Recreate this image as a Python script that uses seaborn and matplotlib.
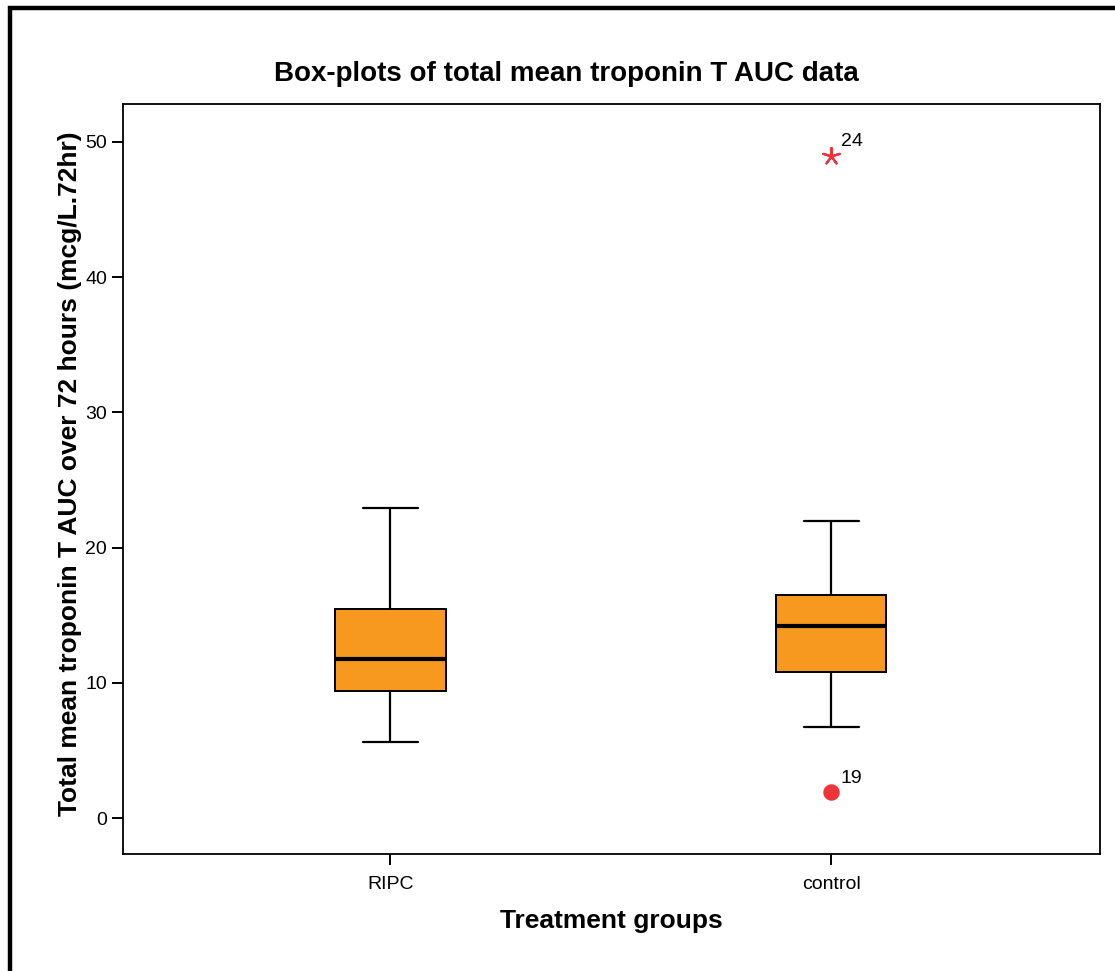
import matplotlib
matplotlib.use("Agg")
import matplotlib.pyplot as plt
import seaborn as sns
import pandas as pd
from matplotlib.patches import Rectangle

# ---- data ----
groups = ["RIPC", "control"]
# five-number summaries: lower whisker, Q1, median, Q3, upper whisker
ripc_summary = [5.62, 9.39, 11.76, 15.46, 22.93]
control_summary = [6.73, 10.80, 14.20, 16.49, 21.97]
outlier_groups = ["control", "control"]
outlier_values = [48.96, 1.92]
outlier_kind = ["extreme", "outlier"]
outlier_labels = ["24", "19"]
yticks = [0, 10, 20, 30, 40, 50]

title = "Box-plots of total mean troponin T AUC data"
xlabel = "Treatment groups"
ylabel = "Total mean troponin T AUC over 72 hours (mcg/L.72hr)"

box_color = "#F7991F"
out_color = "#EE3339"

sns.set_theme(style="white")
plt.rcParams["font.family"] = ["Liberation Sans", "DejaVu Sans"]
plt.rcParams["text.color"] = "black"
plt.rcParams["axes.labelcolor"] = "black"
plt.rcParams["xtick.color"] = "black"
plt.rcParams["ytick.color"] = "black"

df = pd.DataFrame({
    "group": [groups[0]] * len(ripc_summary) + [groups[1]] * len(control_summary),
    "value": ripc_summary + control_summary,
})
odf = pd.DataFrame({"group": outlier_groups, "value": outlier_values, "kind": outlier_kind})

fig = plt.figure(figsize=(11.15, 9.71), dpi=100)
ax = fig.add_axes([123 / 1115, 1 - 854 / 971, 977 / 1115, 750 / 971])

sns.boxplot(data=df, x="group", y="value", order=groups, ax=ax, width=0.25,
            showfliers=False, whis=1.5, color=box_color, saturation=1,
            boxprops=dict(facecolor=box_color, edgecolor="black", linewidth=1.4),
            medianprops=dict(color="black", linewidth=3),
            whiskerprops=dict(color="black", linewidth=1.6),
            capprops=dict(color="black", linewidth=1.6),
            capwidths=0.125)

ext = odf[odf["kind"] == "extreme"]
out = odf[odf["kind"] == "outlier"]
sns.scatterplot(data=ext, x="group", y="value", marker=(5, 2, 0), ax=ax,
                color=out_color, s=150, linewidth=1.6, legend=False, zorder=5)
sns.scatterplot(data=out, x="group", y="value", marker="o", ax=ax,
                color=out_color, s=140, linewidth=0, legend=False, zorder=5)
for g, v, lab in zip(outlier_groups, outlier_values, outlier_labels):
    xi = groups.index(g)
    ax.annotate(lab, (xi, v), xytext=(7, 4), textcoords="offset points",
                fontsize=14, ha="left", va="bottom", color="black")

ax.set_xlim(-0.607, 1.61)
ax.set_ylim(-2.66, 52.8)
ax.set_yticks(yticks)
ax.set_xlabel("")
ax.set_ylabel("")
ax.tick_params(axis="both", which="both", direction="out", length=8, width=1.4,
               color="black", labelsize=14, labelcolor="black", left=True, bottom=True)
ax.tick_params(axis="x", pad=8)
for sp in ax.spines.values():
    sp.set_visible(True)
    sp.set_color("black")
    sp.set_linewidth(1.3)

fig.text(566 / 1115, 1 - 74 / 971, title, ha="center", va="center",
         fontsize=20, fontweight="bold", color="black")
fig.text(611 / 1115, 1 - 921 / 971, xlabel, ha="center", va="center",
         fontsize=19, fontweight="bold", color="black")
fig.text(70 / 1115, 1 - 474 / 971, ylabel, ha="center", va="center",
         rotation=90, fontsize=19, fontweight="bold", color="black")

fig.patches.append(Rectangle((9.5 / 1115, -0.1), 1.2, 1 - 8.5 / 971 + 0.1,
                             transform=fig.transFigure, fill=False,
                             edgecolor="black", linewidth=3.2, figure=fig))

fig.savefig("out.png", dpi=100)
